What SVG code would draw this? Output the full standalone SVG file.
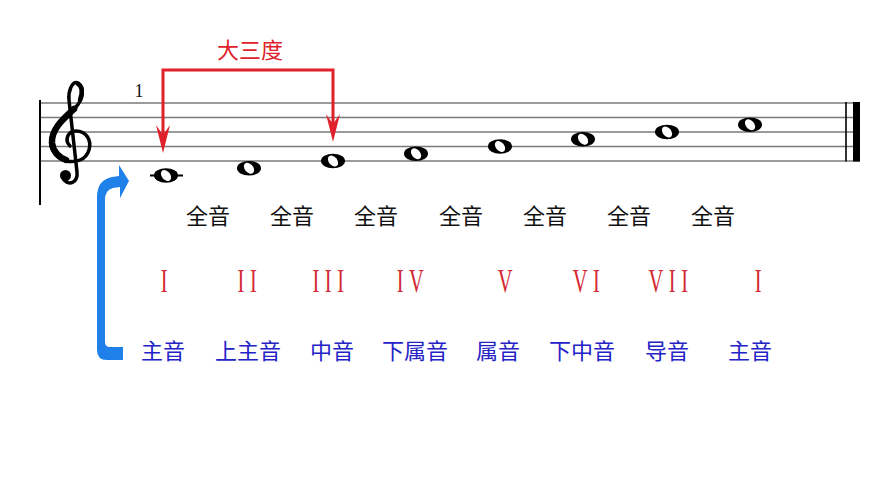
<svg xmlns="http://www.w3.org/2000/svg" width="888" height="500" viewBox="0 0 888 500">
<defs>
<style>
.staff{stroke:#7a7a7a;stroke-width:1.4;fill:none}
.cjk{font-family:"Noto Sans CJK SC","Noto Sans",sans-serif;font-size:22px;text-anchor:middle}
.step{fill:#111}
.deg{fill:#2323c8}
.rom{font-family:"Liberation Serif",serif;font-size:33px;fill:#d42a34;text-anchor:middle;letter-spacing:9px}
.red{stroke:#e0202a;stroke-width:3;fill:none}
.redfill{fill:#e0202a}
</style>
<g id="whole">
<ellipse cx="0" cy="0" rx="12" ry="7.3" fill="#000"/>
<ellipse cx="0" cy="0" rx="4.2" ry="6.2" fill="#fff" transform="rotate(-40)"/>
</g>
<path id="ah" d="M0 0 L-7 -28 L0 -18 L7 -28 Z"/>
</defs>
<rect width="888" height="500" fill="#fff"/>

<g id="staff">
<line class="staff" x1="40" y1="103" x2="860" y2="103"/>
<line class="staff" x1="40" y1="117.5" x2="860" y2="117.5"/>
<line class="staff" x1="40" y1="132" x2="860" y2="132"/>
<line class="staff" x1="40" y1="146.5" x2="860" y2="146.5"/>
<line class="staff" x1="40" y1="161" x2="860" y2="161"/>
<line x1="40" y1="100" x2="40" y2="205" stroke="#000" stroke-width="2"/>
<line x1="846" y1="102" x2="846" y2="161.5" stroke="#000" stroke-width="1.6"/>
<rect x="853" y="102" width="7" height="59.5" fill="#000"/>
</g>

<g id="clef" fill="none" stroke="#000" stroke-linecap="round">
<path d="M70 146 C64 140 68 131 76 131 C86 131 92 140 89 150 C86 160 76 163 66 161 C54 158 48 146 52 135 C56 124 68 116 76 107 C83 99 85 88 78 83 C72 80 68 92 69 100 L77 172 C78 182 70 186 64 180" stroke-width="3.5"/>
<path d="M74 109 C62 120 51 130 52 143 C53 152 60 158 66 160" stroke-width="6.5"/>
<path d="M80 100 C83 92 82 86 78 84" stroke-width="4.5"/>
<circle cx="65.5" cy="175.5" r="5.5" fill="#000" stroke="none"/>
</g>

<text x="139" y="97" font-family="Liberation Serif,serif" font-size="18" fill="#111" text-anchor="middle">1</text>

<g id="notes">
<line x1="150" y1="175.5" x2="183" y2="175.5" stroke="#000" stroke-width="2.2"/>
<use href="#whole" x="166" y="175.5"/>
<use href="#whole" x="249" y="168.25"/>
<use href="#whole" x="333" y="161"/>
<use href="#whole" x="416" y="153.75"/>
<use href="#whole" x="500" y="146.5"/>
<use href="#whole" x="583" y="139.25"/>
<use href="#whole" x="667" y="132"/>
<use href="#whole" x="750" y="124.75"/>
</g>

<g id="connectors">
<path class="red" d="M163 136 L163 70 L333 70 L333 125"/>
<use href="#ah" class="redfill" x="163" y="153"/>
<use href="#ah" class="redfill" x="333" y="142"/>
<path id="blue-arrow" fill="#1e80e8" d="M123 347 L110 347 Q105 347 105 342 L105 200 Q105 190 113 188 L120 187 L120 198 L129 181 L119 165 L119 176 L112 177 Q97 180 97 197 L97 350 Q97 360 107 360 L123 360 Z"/>
</g>

<g id="label-major-third">
<text class="cjk" x="250" y="58" fill="#e0202a" font-size="23">大三度</text>
</g>

<g id="steps">
<text class="cjk step" x="208" y="224">全音</text>
<text class="cjk step" x="292" y="224">全音</text>
<text class="cjk step" x="376" y="224">全音</text>
<text class="cjk step" x="461" y="224">全音</text>
<text class="cjk step" x="545" y="224">全音</text>
<text class="cjk step" x="629" y="224">全音</text>
<text class="cjk step" x="713" y="224">全音</text>
</g>

<g id="roman">
<text class="rom" transform="translate(167 292) scale(0.62 1)">I</text>
<text class="rom" transform="translate(250 292) scale(0.62 1)">II</text>
<text class="rom" transform="translate(331 292) scale(0.62 1)">III</text>
<text class="rom" transform="translate(413 292) scale(0.62 1)">IV</text>
<text class="rom" transform="translate(508 292) scale(0.62 1)">V</text>
<text class="rom" transform="translate(589 292) scale(0.62 1)">VI</text>
<text class="rom" transform="translate(671 292) scale(0.62 1)">VII</text>
<text class="rom" transform="translate(761 292) scale(0.62 1)">I</text>
</g>

<g id="degrees">
<text class="cjk deg" x="163" y="359">主音</text>
<text class="cjk deg" x="248" y="359">上主音</text>
<text class="cjk deg" x="332" y="359">中音</text>
<text class="cjk deg" x="415" y="359">下属音</text>
<text class="cjk deg" x="498" y="359">属音</text>
<text class="cjk deg" x="582" y="359">下中音</text>
<text class="cjk deg" x="667" y="359">导音</text>
<text class="cjk deg" x="750" y="359">主音</text>
</g>
</svg>
